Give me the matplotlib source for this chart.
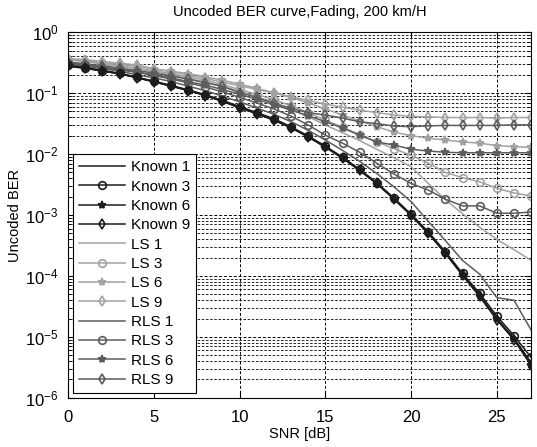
import matplotlib
matplotlib.use("Agg")
import matplotlib.pyplot as plt
import numpy as np

plt.rcParams['font.family'] = ['Liberation Sans', 'DejaVu Sans']
plt.rcParams['mathtext.default'] = 'regular'

snr = np.arange(0, 28)

known1 = [0.28, 0.26, 0.23, 0.21, 0.18, 0.155, 0.132, 0.112, 0.093, 0.075, 0.059, 0.047, 0.037,
          0.0275, 0.0195, 0.0132, 8.7e-3, 5.5e-3, 3.3e-3, 1.86e-3, 1.0e-3, 5.1e-4, 2.4e-4,
          1.05e-4, 4.8e-5, 2.0e-5, 9.5e-6, 3.8e-6]
known3 = [0.285, 0.262, 0.235, 0.212, 0.183, 0.157, 0.134, 0.113, 0.094, 0.076, 0.060, 0.048, 0.038,
          0.028, 0.0198, 0.0135, 8.9e-3, 5.6e-3, 3.4e-3, 1.9e-3, 1.03e-3, 5.3e-4, 2.5e-4,
          1.1e-4, 5.2e-5, 2.2e-5, 1.05e-5, 4.6e-6]
known6 = [0.28, 0.258, 0.232, 0.208, 0.181, 0.154, 0.131, 0.111, 0.092, 0.074, 0.058, 0.046, 0.036,
          0.027, 0.019, 0.013, 8.5e-3, 5.4e-3, 3.25e-3, 1.82e-3, 9.8e-4, 5.0e-4, 2.35e-4,
          1.02e-4, 4.7e-5, 1.95e-5, 9.2e-6, 3.5e-6]
known9 = [0.275, 0.255, 0.23, 0.207, 0.179, 0.153, 0.13, 0.11, 0.091, 0.073, 0.057, 0.046, 0.036,
          0.027, 0.0192, 0.013, 8.6e-3, 5.4e-3, 3.3e-3, 1.84e-3, 9.9e-4, 5.0e-4, 2.38e-4,
          1.03e-4, 4.6e-5, 1.9e-5, 9.0e-6, 3.4e-6]

ls1 = [0.355, 0.33, 0.30, 0.275, 0.25, 0.224, 0.20, 0.174, 0.151, 0.129, 0.107, 0.087, 0.069,
       0.054, 0.041, 0.030, 0.0224, 0.0166, 0.012, 8.7e-3, 6.2e-3, 3.3e-3, 1.78e-3, 1.05e-3,
       6.3e-4, 4.0e-4, 2.7e-4, 1.8e-4]
ls3 = [0.355, 0.33, 0.31, 0.28, 0.257, 0.234, 0.209, 0.186, 0.162, 0.138, 0.115, 0.095, 0.078,
       0.062, 0.048, 0.036, 0.0275, 0.0209, 0.0158, 0.0123, 9.5e-3, 7.1e-3, 5.0e-3, 4.1e-3,
       3.5e-3, 2.75e-3, 2.3e-3, 2.04e-3]
ls6 = [0.363, 0.34, 0.316, 0.295, 0.275, 0.251, 0.229, 0.209, 0.186, 0.162, 0.141, 0.12, 0.102,
       0.085, 0.069, 0.055, 0.0437, 0.0347, 0.0282, 0.0229, 0.020, 0.0182, 0.017, 0.0158,
       0.0151, 0.0138, 0.0132, 0.0129]
ls9 = [0.37, 0.355, 0.33, 0.31, 0.29, 0.251, 0.224, 0.20, 0.174, 0.151, 0.132, 0.115, 0.10,
       0.087, 0.076, 0.066, 0.059, 0.0525, 0.0479, 0.0437, 0.0417, 0.0407, 0.0398, 0.0398,
       0.0398, 0.0389, 0.0398, 0.0398]

rls1 = [0.30, 0.275, 0.25, 0.23, 0.20, 0.178, 0.155, 0.13, 0.11, 0.089, 0.072, 0.057, 0.045,
        0.034, 0.0245, 0.017, 0.0115, 7.6e-3, 4.8e-3, 2.9e-3, 1.66e-3, 7.9e-4, 3.8e-4,
        1.8e-4, 1.07e-4, 4.4e-5, 4.0e-5, 1.3e-5]
rls3 = [0.31, 0.29, 0.26, 0.24, 0.22, 0.195, 0.17, 0.148, 0.126, 0.105, 0.085, 0.069, 0.055,
        0.042, 0.030, 0.0204, 0.0151, 0.0107, 7.1e-3, 4.7e-3, 3.3e-3, 2.57e-3, 1.82e-3,
        1.41e-3, 1.41e-3, 1.07e-3, 1.07e-3, 1.12e-3]
rls6 = [0.316, 0.295, 0.269, 0.245, 0.224, 0.20, 0.178, 0.155, 0.135, 0.115, 0.0955, 0.079,
        0.0646, 0.0525, 0.0427, 0.0339, 0.0269, 0.0204, 0.0158, 0.0141, 0.012, 0.0112, 0.0107,
        0.0105, 0.0105, 0.0105, 0.0105, 0.0105]
rls9 = [0.324, 0.302, 0.282, 0.257, 0.234, 0.214, 0.191, 0.17, 0.148, 0.129, 0.102, 0.085,
        0.069, 0.056, 0.0479, 0.0437, 0.0389, 0.0339, 0.0316, 0.0288, 0.0282, 0.029, 0.0295,
        0.0295, 0.0295, 0.0295, 0.0302, 0.0302]

c_known = '#1c1c1c'
c_ls = '#a2a2a2'
c_rls = '#5c5c5c'

fig = plt.figure(figsize=(5.37, 4.47), dpi=100)
ax = fig.add_axes([0.127, 0.110, 0.862, 0.818])

series = [
    ('Known 1', known1, c_known, None, 3.0),
    ('Known 3', known3, c_known, 'o', 3.0),
    ('Known 6', known6, c_known, '*', 3.0),
    ('Known 9', known9, c_known, 'd', 3.0),
    ('LS 1', ls1, c_ls, None, 2.0),
    ('LS 3', ls3, c_ls, 'o', 2.0),
    ('LS 6', ls6, c_ls, '*', 2.0),
    ('LS 9', ls9, c_ls, 'd', 2.0),
    ('RLS 1', rls1, c_rls, None, 2.5),
    ('RLS 3', rls3, c_rls, 'o', 2.5),
    ('RLS 6', rls6, c_rls, '*', 2.5),
    ('RLS 9', rls9, c_rls, 'd', 2.5),
]
for name, vals, col, mk, z in series:
    ax.semilogy(snr, vals, color=col, lw=1.1, marker=mk, ms=6 if mk == '*' else 5.5,
                mfc='none' if mk in ('o', 'd') else col, mec=col, mew=1.2,
                label=name, zorder=z)

ax.set_xlim(0, 27)
ax.set_ylim(1e-6, 1)
ax.set_xticks([0, 5, 10, 15, 20, 25])
ax.grid(True, which='major', axis='both', color='k', ls=(0, (3, 2)), lw=0.7)
ax.grid(True, which='minor', axis='y', color='k', ls=(0, (3, 2)), lw=0.6)
ax.tick_params(which='both', direction='in', top=True, right=True, labelsize=12)
ax.tick_params(axis='x', which='major', pad=9)
ax.tick_params(axis='y', which='major', pad=7)
ax.tick_params(which='major', length=5)
ax.tick_params(which='minor', length=3)

ax.set_title('Uncoded BER curve,Fading, 200 km/H', fontsize=10.5, pad=12)
ax.set_xlabel('SNR [dB]', fontsize=10.5, labelpad=1)
ax.set_ylabel('Uncoded BER', fontsize=10.5, labelpad=2)

leg = ax.legend(loc='lower left', fontsize=11, handlelength=3.0, labelspacing=0.35,
                borderaxespad=0.3, fancybox=False, framealpha=1, edgecolor='k',
                handletextpad=0.4, borderpad=0.4)
leg.get_frame().set_linewidth(0.8)

fig.savefig('out.png', dpi=100)
